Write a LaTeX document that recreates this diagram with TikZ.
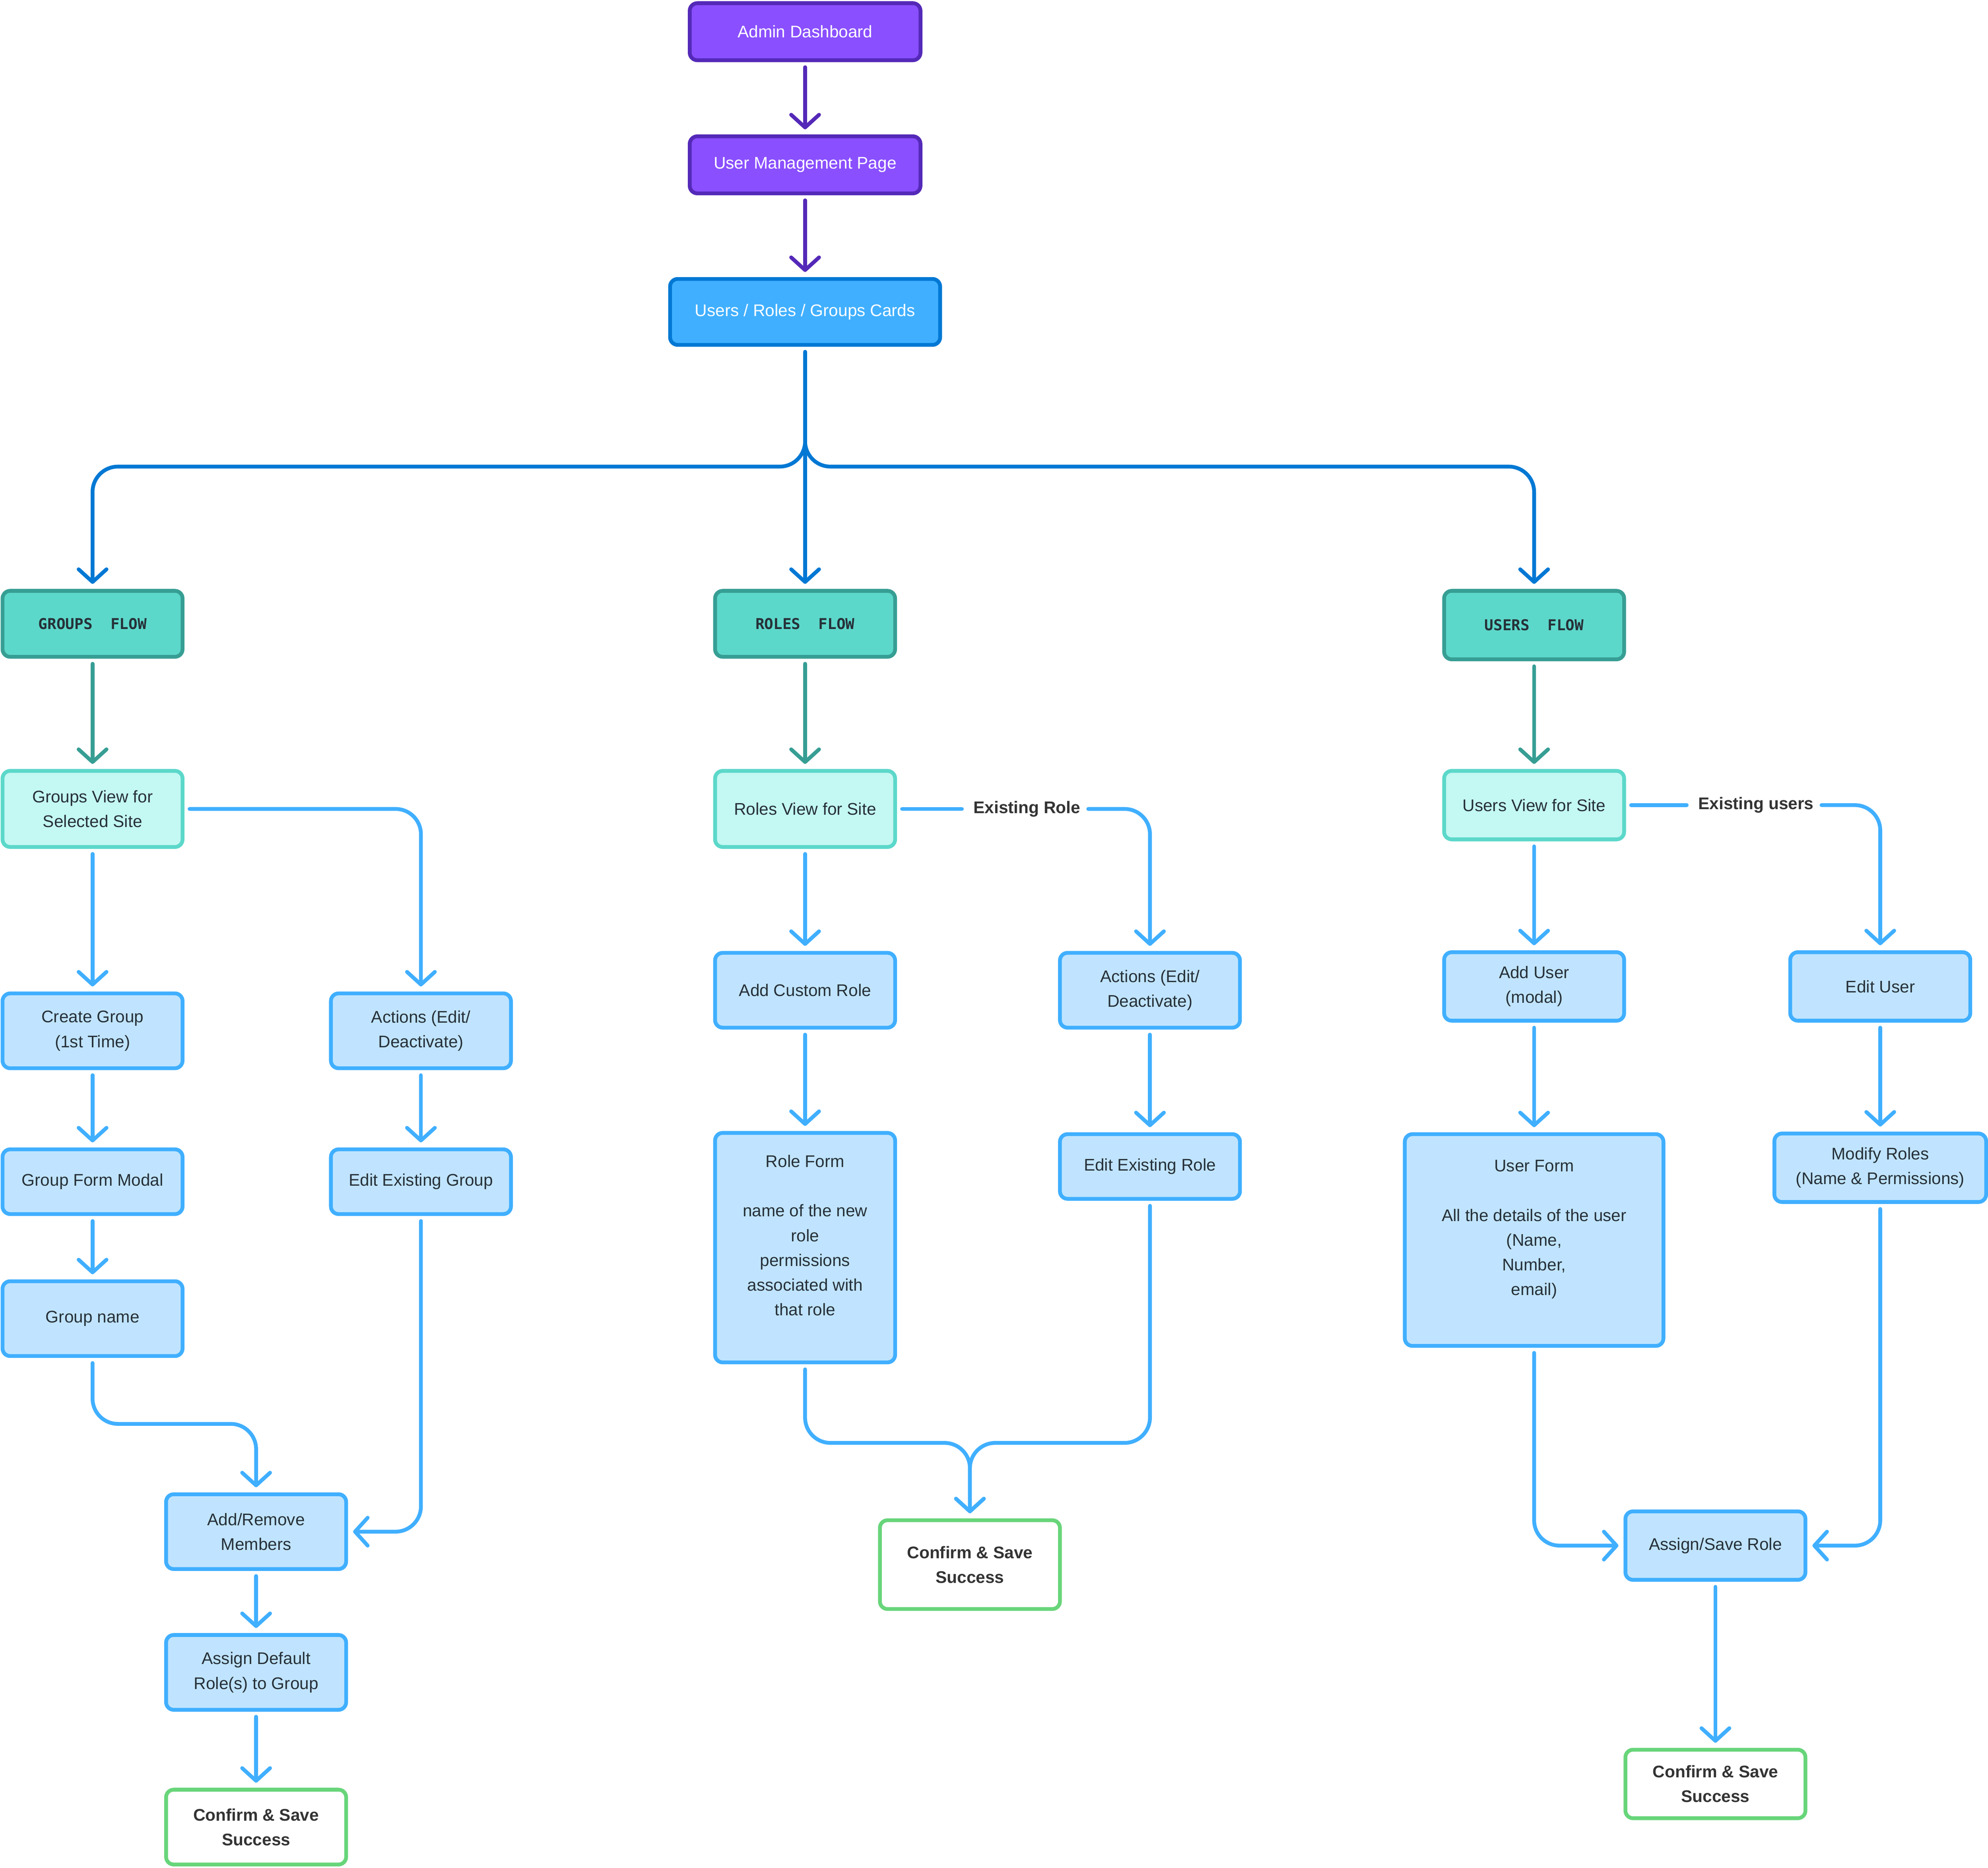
\documentclass[tikz,border=0pt]{standalone}
\usepackage{fontspec}
\setmainfont{Liberation Sans}
\setmonofont{DejaVu Sans Mono}
\usetikzlibrary{arrows.meta}
\definecolor{navfill}{HTML}{8A4FFF}
\definecolor{navline}{HTML}{5429B8}
\definecolor{hubfill}{HTML}{40AFFF}
\definecolor{hubline}{HTML}{0078D4}
\definecolor{flowfill}{HTML}{5CD8CA}
\definecolor{flowline}{HTML}{379E94}
\definecolor{viewfill}{HTML}{C4F8F2}
\definecolor{viewline}{HTML}{5CD8CA}
\definecolor{stepfill}{HTML}{C0E4FF}
\definecolor{stepline}{HTML}{40AFFF}
\definecolor{doneline}{HTML}{68D57A}
\definecolor{ink}{HTML}{263038}
\definecolor{labelink}{HTML}{333333}
\begin{document}
\begin{tikzpicture}[x=1pt,y=-1pt,
  box/.style={rounded corners=6pt,line width=3pt,align=center,inner sep=0pt,
    minimum width=142pt,minimum height=59pt,text=ink,
    font=\fontsize{13.3}{19.5}\selectfont},
  navbox/.style={box,fill=navfill,draw=navline,text=white,minimum width=182pt,minimum height=45pt},
  hubbox/.style={box,fill=hubfill,draw=hubline,text=white,minimum width=213pt,minimum height=52pt},
  flowbox/.style={box,fill=flowfill,draw=flowline,minimum height=52pt,
    font=\ttfamily\bfseries\fontsize{11.8}{14}\selectfont},
  viewbox/.style={box,fill=viewfill,draw=viewline,minimum height=60pt},
  stepbox/.style={box,fill=stepfill,draw=stepline},
  donebox/.style={box,fill=white,draw=doneline,text=labelink,
    font=\bfseries\fontsize{13.3}{19.5}\selectfont},
  link/.style={line width=3pt,line cap=round,rounded corners=20pt,
    shorten <=4pt,shorten >=4pt,-{Straight Barb[length=10pt,width=22pt,round]}},
  navlink/.style={link,draw=navline},
  hublink/.style={link,draw=hubline},
  flowlink/.style={link,draw=flowline},
  steplink/.style={link,draw=stepline},
  lbl/.style={text=labelink,inner xsep=5pt,inner ysep=2pt,
    font=\bfseries\fontsize{13.3}{16}\selectfont}]
\useasboundingbox (0,0) rectangle (1568,1473);
% top of the page
\node[navbox] (admin) at (635,25) {Admin Dashboard};
\node[navbox] (ump) at (635,130) {User Management Page};
\node[hubbox] (hub) at (635,246) {Users / Roles / Groups Cards};
\coordinate (split) at (635,368);
% the three flows
\node[flowbox] (gflow) at (73,492) {GROUPS~~FLOW};
\node[flowbox] (rflow) at (635,492) {ROLES~~FLOW};
\node[flowbox,minimum height=54pt] (uflow) at (1210,493) {USERS~~FLOW};
\node[viewbox] (gview) at (73,638) {Groups View for\\Selected Site};
\node[viewbox] (rview) at (635,638) {Roles View for Site};
\node[viewbox,minimum height=54pt] (uview) at (1210,635) {Users View for Site};
% groups
\node[stepbox] (gcreate) at (73,813) {Create Group\\(1st Time)};
\node[stepbox] (gact) at (332,813) {Actions (Edit/\\Deactivate)};
\node[stepbox,minimum height=51pt] (gmodal) at (73,932) {Group Form Modal};
\node[stepbox,minimum height=51pt] (gedit) at (332,932) {Edit Existing Group};
\node[stepbox] (gname) at (73,1040) {Group name};
\node[stepbox] (gmembers) at (202,1208) {Add/Remove\\Members};
\node[stepbox] (gassign) at (202,1319) {Assign Default\\Role(s) to Group};
\node[donebox] (gdone) at (202,1441) {Confirm \& Save\\Success};
% roles
\node[stepbox] (radd) at (635,781) {Add Custom Role};
\node[stepbox] (ract) at (907,781) {Actions (Edit/\\Deactivate)};
\node[lbl] (rlbl) at (810,638) {Existing Role};
\node[stepbox,minimum height=181pt] (rform) at (635,984)
  {Role Form\\[19.5pt]name of the new\\role\\permissions\\associated with\\that role\\\mbox{}};
\node[stepbox,minimum height=51pt] (redit) at (907,920) {Edit Existing Role};
\node[donebox,minimum height=70pt] (rdone) at (765,1234) {Confirm \& Save\\Success};
\coordinate (rjoin) at (765,1138);
% users
\node[stepbox,minimum height=54pt] (uadd) at (1210,778) {Add User\\(modal)};
\node[stepbox,minimum height=54pt] (uedit) at (1483,778) {Edit User};
\node[lbl] (ulbl) at (1385,635) {Existing users};
\node[stepbox,minimum width=204pt,minimum height=167pt] (uform) at (1210,978)
  {User Form\\[19.5pt]All the details of the user\\(Name,\\Number,\\email)\\\mbox{}};
\node[stepbox,minimum width=167pt,minimum height=54pt] (umod) at (1483,921) {Modify Roles\\(Name \& Permissions)};
\node[stepbox,minimum height=54pt] (uassign) at (1353,1219) {Assign/Save Role};
\node[donebox,minimum height=54pt] (udone) at (1353,1407) {Confirm \& Save\\Success};
% connectors
\draw[navlink] (admin) -- (ump);
\draw[navlink] (ump) -- (hub);
\draw[hublink] (hub) -- (rflow);
\draw[hublink] (hub.south) -- (split) -| (gflow.north);
\draw[hublink] (hub.south) -- (split) -| (uflow.north);
\draw[flowlink] (gflow) -- (gview);
\draw[flowlink] (rflow) -- (rview);
\draw[flowlink] (uflow) -- (uview);
\draw[steplink] (gview) -- (gcreate);
\draw[steplink] (gview.east) -| (gact.north);
\draw[steplink] (gcreate) -- (gmodal);
\draw[steplink] (gmodal) -- (gname);
\draw[steplink] (gact) -- (gedit);
\draw[steplink] (gname.south) -- ++(0,52) -| (gmembers.north);
\draw[steplink] (gedit.south) |- (gmembers.east);
\draw[steplink] (gmembers) -- (gassign);
\draw[steplink] (gassign) -- (gdone);
\draw[steplink] (rview) -- (radd);
\draw[steplink,-] (rview) -- (rlbl);
\draw[steplink,shorten <=1pt] (rlbl) -| (ract.north);
\draw[steplink] (radd) -- (rform);
\draw[steplink] (ract) -- (redit);
\draw[steplink] (rform.south) |- (rjoin) -- (rdone.north);
\draw[steplink] (redit.south) |- (rjoin) -- (rdone.north);
\draw[steplink] (uview) -- (uadd);
\draw[steplink,-] (uview) -- (ulbl);
\draw[steplink,shorten <=1pt] (ulbl) -| (uedit.north);
\draw[steplink] (uadd) -- (uform);
\draw[steplink] (uedit) -- (umod);
\draw[steplink] (uform.south) |- (uassign.west);
\draw[steplink] (umod.south) |- (uassign.east);
\draw[steplink] (uassign) -- (udone);
\end{tikzpicture}
\end{document}
